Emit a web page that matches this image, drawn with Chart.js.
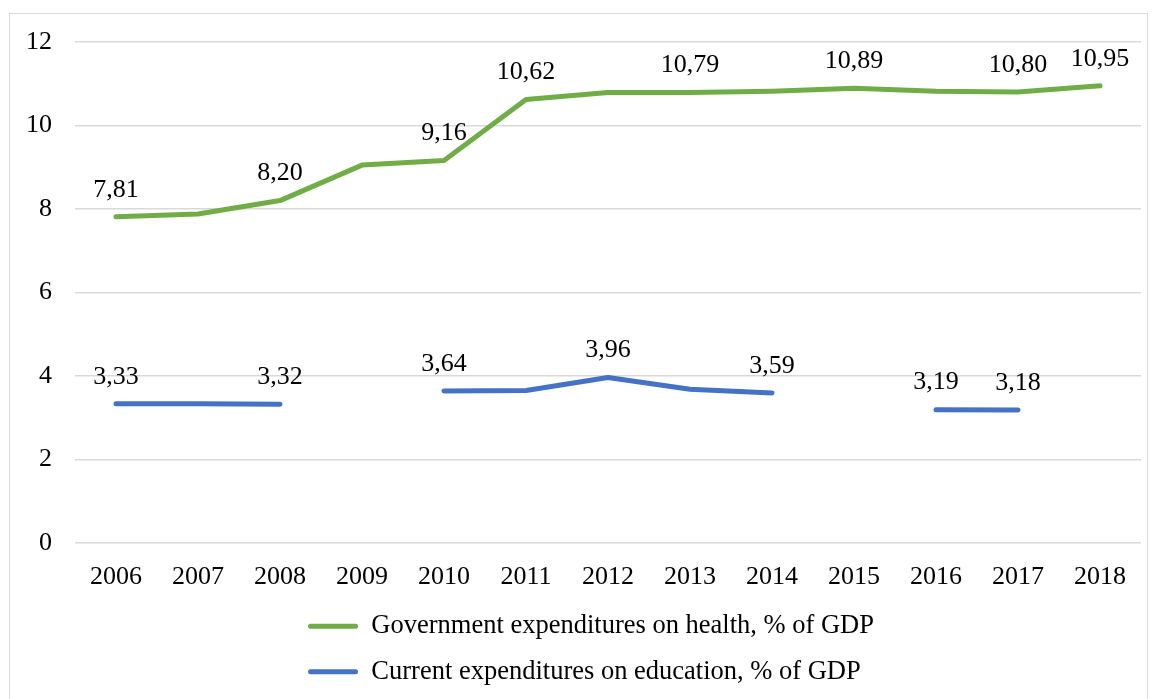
<!DOCTYPE html>
<html>
<head>
<meta charset="utf-8">
<script src="https://cdn.jsdelivr.net/npm/chart.js@4/dist/chart.umd.min.js"></script>
<style>
  html, body { margin: 0; padding: 0; background: #fff; overflow: hidden; }
  #frame {
    position: absolute;
    left: 9px; top: 13px;
    width: 1137px; height: 700px;
    border: 1px solid #d9d9d9;
    background: #fff;
  }
  #wrap { position: absolute; left: 0; top: 0; width: 1137px; height: 686px; }
</style>
</head>
<body>
<div id="frame"><div id="wrap"><canvas id="chart"></canvas></div></div>
<script>
  'use strict';

  const years = ['2006', '2007', '2008', '2009', '2010', '2011', '2012',
    '2013', '2014', '2015', '2016', '2017', '2018'];

  // Government expenditures on health, % of GDP
  const health = [7.81, 7.88, 8.20, 9.05, 9.16, 10.62, 10.79, 10.79, 10.82, 10.89, 10.82, 10.80, 10.95];
  // Current expenditures on education, % of GDP (gaps where no data)
  const education = [3.33, 3.33, 3.32, null, 3.64, 3.65, 3.96, 3.68, 3.59, null, 3.19, 3.18, null];

  // Which points carry a value label
  const healthLabelled = [0, 2, 4, 5, 7, 9, 11, 12];
  const educationLabelled = [0, 2, 4, 6, 8, 10, 11];

  const seriesNames = [
    'Government expenditures on health, % of GDP',
    'Current expenditures on education, % of GDP'
  ];
  const yTicks = [0, 2, 4, 6, 8, 10, 12];

  const GREEN = '#70ad47';
  const BLUE = '#4472c4';
  const FONT = "'Liberation Serif', 'Times New Roman', serif";

  Chart.defaults.font.family = FONT;
  Chart.defaults.font.size = 26;
  Chart.defaults.color = '#000';

  function fmt(v) {
    return v.toFixed(2).replace('.', ',');
  }

  // Draws the value labels above the chosen points
  const valueLabels = {
    id: 'valueLabels',
    afterDatasetsDraw(chart) {
      const ctx = chart.ctx;
      const picks = [healthLabelled, educationLabelled];
      ctx.save();
      ctx.font = '26px ' + FONT;
      ctx.fillStyle = '#000';
      ctx.textAlign = 'center';
      ctx.textBaseline = 'middle';
      chart.data.datasets.forEach((ds, di) => {
        const meta = chart.getDatasetMeta(di);
        picks[di].forEach(i => {
          const v = ds.data[i];
          if (v == null) return;
          const pt = meta.data[i];
          ctx.fillText(fmt(v), pt.x, pt.y - 27);
        });
      });
      ctx.restore();
    }
  };

  // Legend rows share one left edge: every row gets the widest row's width,
  // minus the item padding so the swatch+text block itself is centred
  const alignLegendRows = {
    id: 'alignLegendRows',
    afterUpdate(chart) {
      const lg = chart.legend;
      if (!lg || !lg.lineWidths) return;
      const pad = lg.options.labels.padding;
      const widest = Math.max(...lg.lineWidths) - 2 * pad;
      lg.lineWidths = lg.lineWidths.map(() => widest);
    }
  };

  new Chart(document.getElementById('chart'), {
    type: 'line',
    data: {
      labels: years,
      datasets: [
        {
          label: seriesNames[0],
          data: health,
          borderColor: GREEN,
          backgroundColor: GREEN,
          borderWidth: 5,
          borderCapStyle: 'round',
          borderJoinStyle: 'round',
          pointRadius: 0,
          tension: 0,
          spanGaps: false
        },
        {
          label: seriesNames[1],
          data: education,
          borderColor: BLUE,
          backgroundColor: BLUE,
          borderWidth: 5,
          borderCapStyle: 'round',
          borderJoinStyle: 'round',
          pointRadius: 0,
          tension: 0,
          spanGaps: false
        }
      ]
    },
    options: {
      responsive: true,
      maintainAspectRatio: false,
      animation: false,
      layout: { padding: { left: -7, right: 6, top: 28, bottom: 5 } },
      plugins: {
        tooltip: { enabled: false },
        legend: {
          display: true,
          position: 'bottom',
          labels: {
            boxWidth: 50,
            boxHeight: 5,
            padding: 19,
            useBorderRadius: true,
            borderRadius: 2.5,
            font: { size: 26.5 },
            generateLabels(chart) {
              return chart.data.datasets.map((ds, i) => ({
                text: ds.label,
                fillStyle: ds.borderColor,
                strokeStyle: ds.borderColor,
                lineWidth: 0,
                borderRadius: 2.5,
                hidden: false,
                datasetIndex: i
              }));
            }
          }
        }
      },
      scales: {
        x: {
          offset: true,
          grid: { display: false, drawTicks: false },
          border: { display: false },
          ticks: { padding: 19, maxRotation: 0, autoSkip: false },
          afterFit(axis) {
            axis.height -= 18;
          }
        },
        y: {
          min: 0,
          max: 12,
          afterBuildTicks(axis) {
            axis.ticks = yTicks.map(v => ({ value: v }));
          },
          afterFit(axis) {
            // the top label has room above the plot already
            axis.paddingTop = 0;
            axis.paddingBottom = 0;
          },
          grid: { color: '#d9d9d9', lineWidth: 1.5, drawTicks: false },
          border: { display: false },
          ticks: { padding: 23 }
        }
      }
    },
    plugins: [valueLabels, alignLegendRows]
  });
</script>
</body>
</html>
